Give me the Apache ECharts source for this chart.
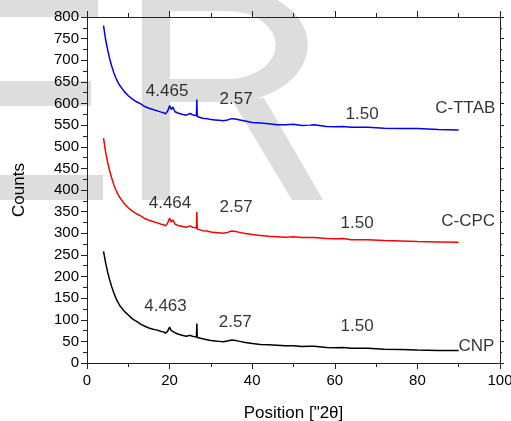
<!DOCTYPE html>
<html>
<head>
<meta charset="utf-8">
<style>
  html, body { margin: 0; padding: 0; background: #fff; }
  #chart { width: 511px; height: 421px; }
</style>
<script src="https://cdn.jsdelivr.net/npm/echarts@6/dist/echarts.min.js"></script>
</head>
<body>
<div id="chart"></div>
<script>
// Diffraction angle (2θ, degrees) shared by all three patterns
const twoTheta = [4,4.5,5,5.5,6,6.5,7,7.5,8,9,10,11,12,13,14,15,16,17,18,18.5,19,19.5,20,20.4,20.8,21.3,22,23,24,25,25.5,26,26.5,26.6,26.7,27,28,29,30,31,32,33,34,35,36,37,38,40,42,44,46,48,50,52,54,55,58,60,62,64,68,72,76,80,85,90];

// Intensity (counts) for each sample
const countsCTTAB = [780,748,724,703,686,671,659,649,641,628,618,610,604,599,593,589,586,583,580,579,576,582,595,586,592,581,578,575,573,577,574,573,572,609,570,569,566,565,563,562,561,560,562,565,564,562,560,556,555,553,551,551,552,549,550,551,547,546,547,545,545,543,542,542,540,539];
const countsCCPC  = [520,488,464,444,427,412,400,390,382,369,359,351,345,340,334,330,327,324,321,320,317,323,335,326,331,321,318,316,314,317,314,313,312,349,310,309,306,305,303,302,301,300,302,305,304,302,300,297,295,293,292,291,292,290,290,290,288,287,288,285,285,283,282,281,280,279];
const countsCNP   = [258,232,210,192,176,162,150,140,132,120,111,102,96,90,85,81,78,76,73,72,69,73,83,75,79,70,67,64,62,64,62,61,60,91,59,58,56,54,52,51,50,49,51,53,52,50,48,45,43,42,41,40,40,38,39,39,36,35,36,34,34,32,31,30,29,29];

const seriesNames  = ['C-TTAB', 'C-CPC', 'CNP'];
const seriesColors = ['#0000ff', '#ff0000', '#000000'];

// d-spacing annotations and sample names, placed in data coordinates
const noteText = ['4.465','2.57','1.50','C-TTAB','4.464','2.57','1.50','C-CPC','4.463','2.57','1.50','CNP'];
const noteX    = [19.4, 36.1, 66.6, 91.6, 20.1, 36.1, 65.4, 92.3, 19.0, 35.9, 65.4, 94.3];
const noteY    = [629, 609, 576, 588, 370, 359, 322, 327, 131, 93, 84, 38];

const FONT = '"Liberation Sans", Arial, sans-serif';
const INK = '#000000';
const PALE = '#dddddd';

const pattern = (vals) => twoTheta.map((x, i) => [x, vals[i]]);

const chart = echarts.init(document.getElementById('chart'), null, { renderer: 'canvas' });

const baseX = {
  type: 'value', min: 0, max: 100, interval: 20,
  splitLine: { show: false },
  axisLine: { show: true, onZero: false, lineStyle: { color: '#222', width: 1 } },
  axisTick: { show: true, length: 6, lineStyle: { color: '#222' } },
  minorTick: { show: true, splitNumber: 2, length: 4, lineStyle: { color: '#222' } },
  minorSplitLine: { show: false }
};
const baseY = {
  type: 'value', min: 0, max: 800, interval: 50,
  splitLine: { show: false },
  axisLine: { show: true, onZero: false, lineStyle: { color: '#222', width: 1 } },
  axisTick: { show: true, length: 6, lineStyle: { color: '#222' } },
  minorTick: { show: true, splitNumber: 2, length: 4, lineStyle: { color: '#222' } },
  minorSplitLine: { show: false }
};

// large pale lettering ("E" cut by the left edge, then "R") behind the plot
const backdrop = {
  type: 'group',
  z: -10,
  silent: true,
  children: [
    // E: three bars, stem lies beyond the left edge
    { type: 'rect', shape: { x: -40, y: -12, width: 138, height: 29 }, style: { fill: PALE } },
    { type: 'rect', shape: { x: -40, y: 81, width: 131, height: 25 }, style: { fill: PALE } },
    { type: 'rect', shape: { x: -40, y: 175, width: 143, height: 25 }, style: { fill: PALE } },
    // R: stem
    { type: 'rect', shape: { x: 142, y: -12, width: 28, height: 212 }, style: { fill: PALE } },
    // R: straight parts of the bowl
    { type: 'rect', shape: { x: 169, y: -12, width: 60, height: 23 }, style: { fill: PALE } },
    { type: 'rect', shape: { x: 169, y: 79, width: 60, height: 23 }, style: { fill: PALE } },
    // R: rounded part of the bowl (half ring stretched sideways)
    {
      type: 'sector',
      x: 228, y: 45, scaleX: 1.4, scaleY: 1,
      shape: { cx: 0, cy: 0, r: 57, r0: 34, startAngle: -Math.PI / 2, endAngle: Math.PI / 2, clockwise: true },
      style: { fill: PALE }
    },
    // R: leg
    {
      type: 'polygon',
      shape: { points: [[232, 100], [264, 98], [323, 200], [292, 200]] },
      style: { fill: PALE }
    }
  ]
};

chart.setOption({
  backgroundColor: '#ffffff',
  animation: false,
  textStyle: { fontFamily: FONT },
  graphic: [backdrop],
  grid: { left: 87, right: 11, top: 17, bottom: 58, containLabel: false, outerBoundsMode: 'none' },
  xAxis: [
    Object.assign({}, baseX, {
      position: 'bottom',
      name: 'Position ["2θ]',
      nameLocation: 'middle',
      nameGap: 42,
      nameTextStyle: { fontSize: 17, color: INK, fontFamily: FONT },
      axisLabel: { fontSize: 15, color: INK, margin: 10, fontFamily: FONT }
    }),
    Object.assign({}, baseX, {
      position: 'top',
      axisLabel: { show: false }
    })
  ],
  yAxis: [
    Object.assign({}, baseY, {
      position: 'left',
      name: 'Counts',
      nameLocation: 'middle',
      nameGap: 59,
      nameRotate: 90,
      nameTextStyle: { fontSize: 17, color: INK, fontFamily: FONT },
      axisLabel: { fontSize: 15, color: INK, margin: 8, fontFamily: FONT }
    }),
    Object.assign({}, baseY, {
      position: 'right',
      axisLabel: { show: false },
      axisTick: { show: true, length: 4, lineStyle: { color: '#222' } },
      minorTick: { show: true, splitNumber: 2, length: 2, lineStyle: { color: '#222' } }
    })
  ],
  series: [
    ...[countsCTTAB, countsCCPC, countsCNP].map((vals, k) => ({
      name: seriesNames[k],
      type: 'line',
      data: pattern(vals),
      xAxisIndex: 0,
      yAxisIndex: 0,
      showSymbol: false,
      symbol: 'none',
      smooth: false,
      lineStyle: { color: seriesColors[k], width: 1.5 },
      z: 3
    })),
    {
      type: 'scatter',
      xAxisIndex: 0,
      yAxisIndex: 0,
      symbolSize: 1,
      itemStyle: { color: 'transparent' },
      silent: true,
      z: 4,
      data: noteText.map((t, i) => ({ value: [noteX[i], noteY[i]], name: t })),
      label: {
        show: true,
        position: 'inside',
        formatter: (p) => p.name,
        fontSize: 17,
        color: INK,
        fontFamily: FONT,
        align: 'center',
        verticalAlign: 'middle'
      }
    }
  ]
});
</script>
</body>
</html>
